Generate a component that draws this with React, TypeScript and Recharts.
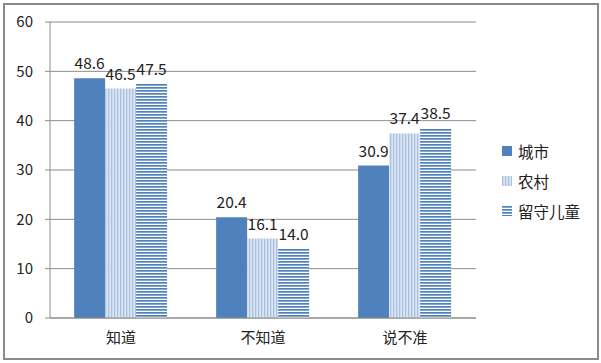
import React from 'react';
import { BarChart, Bar, XAxis, YAxis, CartesianGrid, LabelList } from 'recharts';

const categories = ['知道', '不知道', '说不准'];
const cityValues = [48.6, 20.4, 30.9];
const ruralValues = [46.5, 16.1, 37.4];
const leftBehindValues = [47.5, 14.0, 38.5];
const seriesNames = ['城市', '农村', '留守儿童'];
const yTicks = [0, 10, 20, 30, 40, 50, 60];

const data = categories.map((c, i) => ({
  name: c,
  city: cityValues[i],
  rural: ruralValues[i],
  left: leftBehindValues[i],
}));

const FONT = '"Noto Sans CJK SC", "Liberation Sans", sans-serif';

const legendItems = [
  { name: seriesNames[0], fill: '#4f81bd' },
  { name: seriesNames[1], fill: 'url(#vstripe)' },
  { name: seriesNames[2], fill: 'url(#hstripe)' },
];

const fmt = (v: any) => Number(v).toFixed(1);

export default function App() {
  return (
    <div style={{ position: 'absolute', left: 0, top: 0, width: 601, height: 363, background: '#fff' }}>
      <BarChart
        width={601}
        height={363}
        data={data}
        margin={{ top: 22, right: 125, bottom: 15, left: 0 }}
        barCategoryGap="17%"
        barGap={0}
        style={{ fontFamily: FONT }}
      >
        <defs>
          <pattern id="vstripe" width={3} height={3} patternUnits="userSpaceOnUse">
            <rect width={3} height={3} fill="#dce6f2" />
            <rect width={1.3} height={3} fill="#a9c1e0" />
          </pattern>
          <pattern id="hstripe" width={3} height={3} patternUnits="userSpaceOnUse">
            <rect width={3} height={3} fill="#ffffff" />
            <rect width={3} height={1.7} fill="#4f81bd" />
          </pattern>
        </defs>
        <CartesianGrid vertical={false} stroke="#8c8c8c" strokeWidth={1} />
        <XAxis
          xAxisId="b"
          type="number"
          domain={[0, 3]}
          ticks={[0, 1, 2, 3]}
          tick={false}
          axisLine={false}
          tickLine={{ stroke: '#8c8c8c' }}
          tickSize={5}
          height={0}
        />
        <XAxis
          dataKey="name"
          tickLine={false}
          axisLine={{ stroke: '#8c8c8c' }}
          tick={{ fill: '#222', fontSize: 15 }}
          tickMargin={8}
          height={30}
        />
        <YAxis
          domain={[0, 60]}
          ticks={yTicks}
          width={50}
          axisLine={{ stroke: '#8c8c8c' }}
          tickLine={{ stroke: '#8c8c8c' }}
          tickSize={5}
          tickMargin={12}
          tick={{ fill: '#222', fontSize: 15 }}
        />
        <Bar dataKey="city" name={seriesNames[0]} fill="#4f81bd" isAnimationActive={false}>
          <LabelList dataKey="city" position="top" formatter={fmt} fill="#222" fontSize={15.5} offset={9} />
        </Bar>
        <Bar dataKey="rural" name={seriesNames[1]} fill="url(#vstripe)" isAnimationActive={false}>
          <LabelList dataKey="rural" position="top" formatter={fmt} fill="#222" fontSize={15.5} offset={9} />
        </Bar>
        <Bar dataKey="left" name={seriesNames[2]} fill="url(#hstripe)" isAnimationActive={false}>
          <LabelList dataKey="left" position="top" formatter={fmt} fill="#222" fontSize={15.5} offset={9} />
        </Bar>
      </BarChart>
      <div style={{ position: 'absolute', left: 502, top: 136, fontFamily: FONT, fontSize: 15.5, color: '#222' }}>
        {legendItems.map((it) => (
          <div key={it.name} style={{ display: 'flex', alignItems: 'center', height: 30 }}>
            <svg width={10} height={10} style={{ marginRight: 6 }}>
              <rect width={10} height={10} fill={it.fill} />
            </svg>
            <span>{it.name}</span>
          </div>
        ))}
      </div>
      <div
        style={{
          position: 'absolute',
          left: 3,
          top: 3,
          width: 592,
          height: 353,
          border: '2px solid #8a8a8a',
          pointerEvents: 'none',
        }}
      />
    </div>
  );
}
